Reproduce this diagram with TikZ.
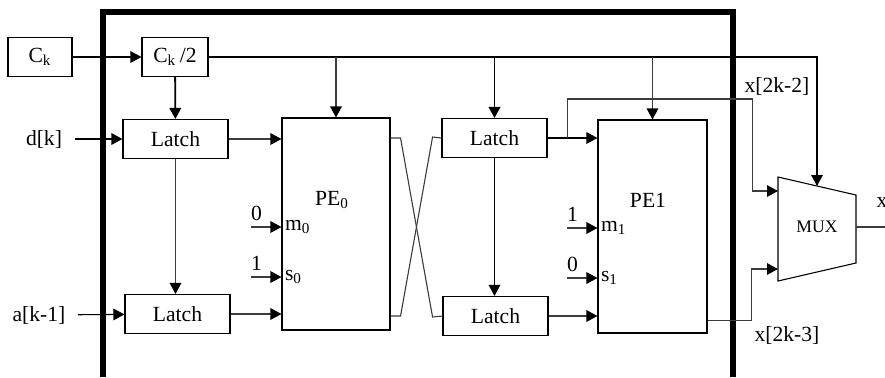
\documentclass[tikz,border=0pt]{standalone}
\usepackage{fontspec}
\setmainfont{Liberation Serif}
\usetikzlibrary{arrows.meta}
\definecolor{wire}{HTML}{3C3C3C}
\tikzset{px/.style={x=.5pt,y=-.5pt,line width=.55pt,font=\fontsize{10.8}{13}\selectfont,>={Triangle[length=5.5pt,width=5.8pt,color=black]}},
  clkbox/.style={draw,inner sep=0pt,minimum width=32pt,minimum height=19.5pt},
  latchbox/.style={draw,inner sep=0pt,minimum width=52.5pt,minimum height=19.5pt},
  pebox/.style={draw,inner sep=0pt,minimum width=54pt,minimum height=106pt},
  lbl/.style={inner sep=0pt,inner xsep=6pt},
  wr/.style={wire}}

\begin{document}
\begin{tikzpicture}[px]
  \useasboundingbox (0,0) rectangle (885,377);
  \draw[line width=2.6pt] (103,377) -- (103,12) -- (733,12) -- (733,377);
  % blocks
  \node[clkbox] (ck) at (40,57) {C\textsubscript{k}};
  \node[clkbox,minimum width=33pt] (ckh) at (175,57) {C\textsubscript{k}\,/2};
  \node[latchbox] (latA) at (175.5,139) {Latch};
  \node[latchbox] (latB) at (177.5,314) {Latch};
  \node[latchbox] (latC) at (494.5,138) {Latch};
  \node[latchbox] (latD) at (495.5,316) {Latch};
  \node[pebox] (pe0) at (336,224) {};
  \node[pebox,minimum width=54.5pt,minimum height=106.5pt] (pe1) at (652.5,226.5) {};
  \node (pe0t) at (332,200) {PE\textsubscript{0}};
  \node (pe1t) at (648,200) {PE1};
  \node[lbl] (dk) at (44,139) {d[k]};
  \node[lbl] (ak) at (39,315) {a[k-1]};
  % mux
  \draw (778,177) -- (856,195) -- (856,263) -- (778,281) -- cycle;
  \node[font=\fontsize{8.8}{10}\selectfont] (mux) at (817,227) {MUX};
  \coordinate (mA) at (778,191);
  \coordinate (mB) at (778,269);
  \coordinate (mS) at (817,186);
  \coordinate (mO) at (856,227);
  \coordinate (xo) at (885,227);
  \node[anchor=west,inner sep=0pt] (xl) at (876,203) {x};
  \node (x2) at (777,86) {x[2k-2]};
  \node (x3) at (787,335) {x[2k-3]};
  % clock
  \draw[->] (ck) -- (ckh);
  \draw[->,line width=.9pt] (ckh) -- (latA);
  \draw[->] (ckh) -| (mS);
  \draw[wr,->] (pe0.north |- ckh) -- (pe0);
  \draw[->,line width=.9pt] (latC |- ckh) -- (latC);
  \draw[wr,->] (pe1.north |- ckh) -- (pe1);
  % data
  \draw[->] (dk) -- (latA);
  \draw[->] (ak) -- (latB);
  \draw[wr,->] (latA) -- (latA -| pe0.west);
  \draw[wr,->] (latB) -- (latB -| pe0.west);
  \draw[wr,->] (latA) -- (latA |- latB.north);
  \draw[->] (latC) -- (latC |- latD.north);
  \draw[->] (latC) -- (latC -| pe1.west);
  \draw[wr,->] (latD) -- (latD -| pe1.west);
  \draw[wr] (pe0.east |- latC) -- ++(10,0) -- ++(32,179) -- (latD.west);
  \draw[wr] (pe0.east |- latD) -- ++(10,0) -- ++(32,-179) -- (latC.west);
  \foreach \p/\y/\v/\l [count=\i] in {pe0/227/0/{m\textsubscript{0}},pe0/277/1/{s\textsubscript{0}},pe1/228/1/{m\textsubscript{1}},pe1/278/0/{s\textsubscript{1}}}{
    \coordinate (in\i) at (\p.west |- 0,\y);
    \draw[wr,->] ([xshift=-15pt]in\i) -- (in\i);
    \node at ([xshift=-12.5pt,yshift=7pt]in\i) {\v};
    \node[right,inner sep=1.5pt] at (in\i) {\l};
  }
  % to mux
  \path (latC.east) ++(20,0) coordinate (tap);
  \draw[wr,->] (tap) |- ++(185,-39) |- (mA);
  \draw[wr,->] ([yshift=6.5pt]pe1.south east) -- ++(44,0) |- (mB);
  \draw[wr] (mO) -- (xo);
\end{tikzpicture}
\end{document}
